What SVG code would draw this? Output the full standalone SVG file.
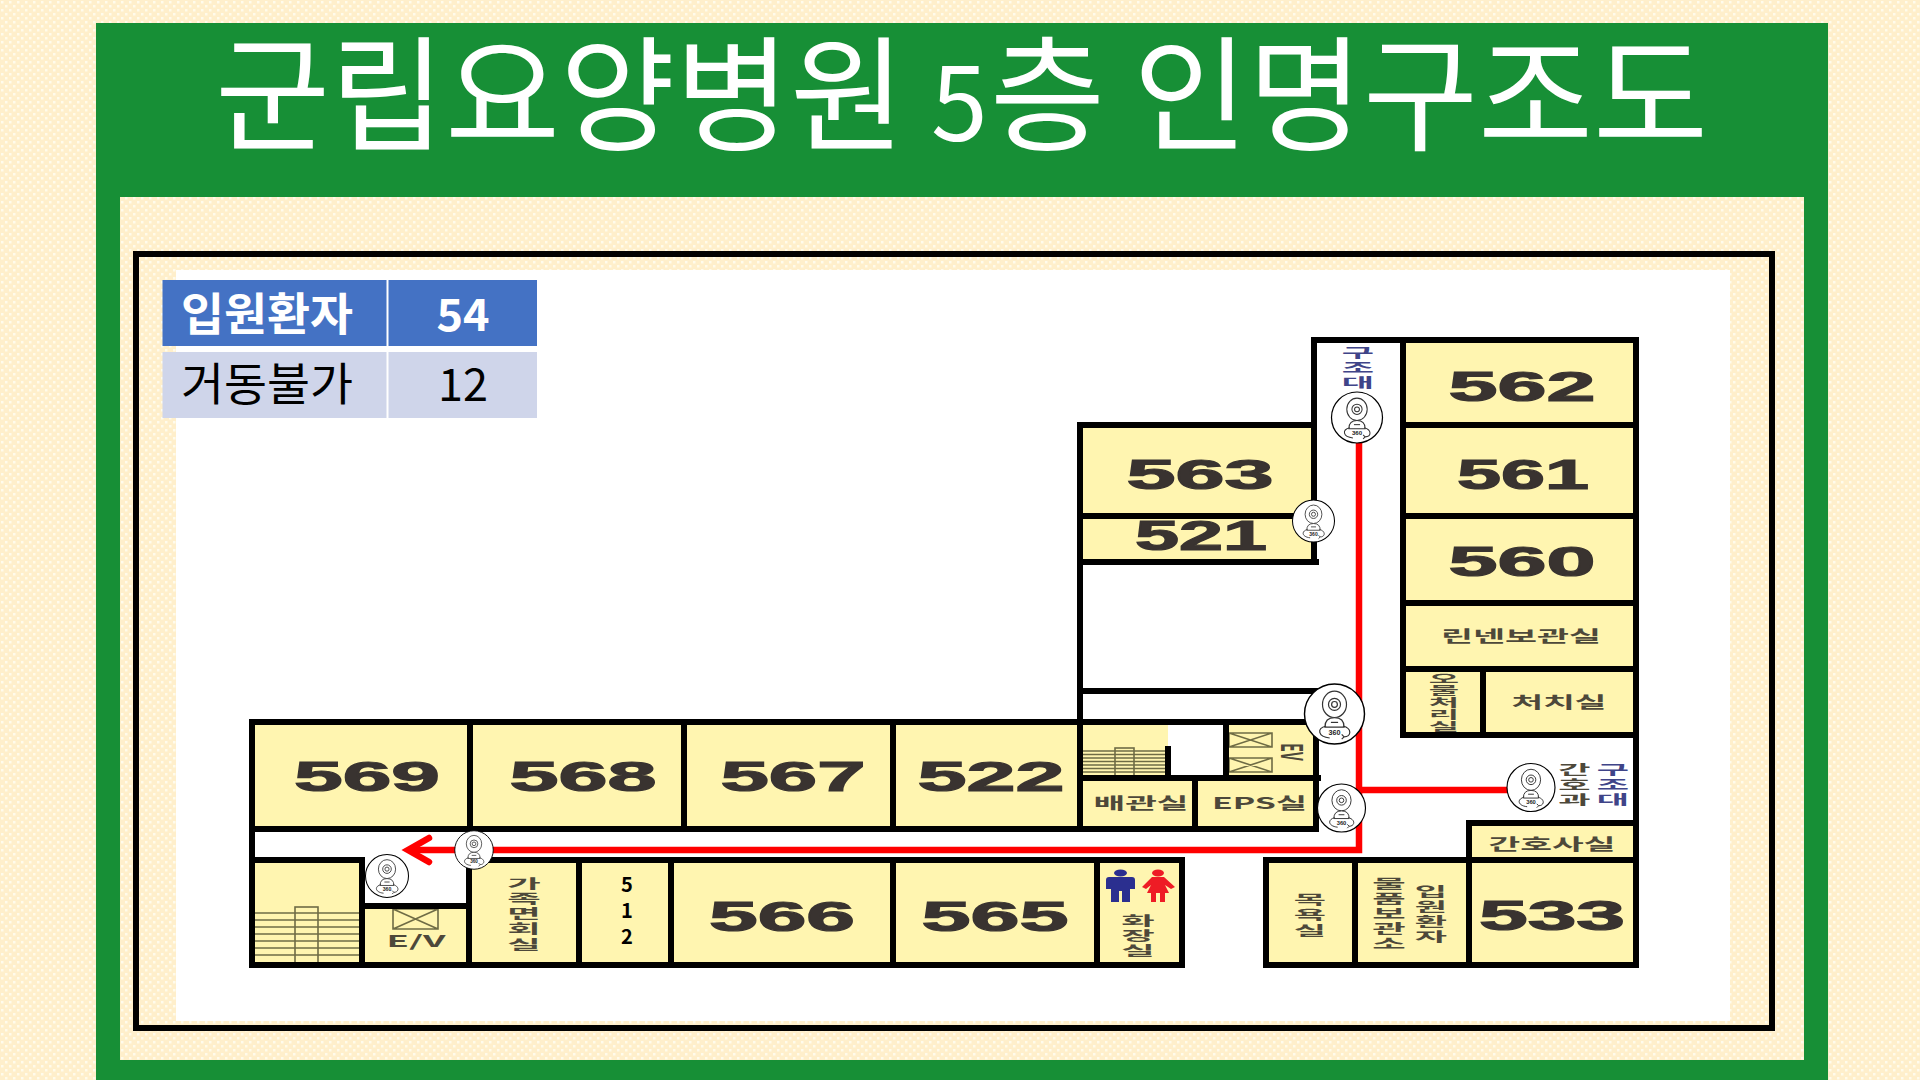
<svg xmlns="http://www.w3.org/2000/svg" xmlns:xlink="http://www.w3.org/1999/xlink" width="1920" height="1080" viewBox="0 0 1920 1080">
<style>
text{font-family:"Noto Sans CJK KR","Noto Sans",sans-serif}
.room{fill:#fff5b0}
.wall{stroke:#000;stroke-width:6;fill:none;stroke-linecap:square}
.num{font-family:"Liberation Sans",Arial,sans-serif;font-weight:700;font-size:42px;fill:#393330;stroke:#393330;stroke-width:1.2;text-anchor:middle}
.lb{font-weight:700;font-size:16px;fill:#4d483a;text-anchor:middle}
.vl{font-weight:700;font-size:13px;fill:#4d483a;text-anchor:middle}
.blue{fill:#3f4488}
.st{stroke:#6f6c45;stroke-width:1.6;fill:none}
.red{stroke:#f00;stroke-width:6.5;fill:none}
.th{font-size:45px;text-anchor:middle}
</style>
<defs>
<pattern id="paper" width="8" height="8" patternUnits="userSpaceOnUse"><rect width="8" height="8" fill="#ffefcb"/><rect x="1" y="1" width="2.500" height="2.500" fill="#fffbec"/><rect x="5" y="5" width="2.500" height="2.500" fill="#fffbec"/></pattern>
<g id="cam">
<circle r="25" fill="#fff" stroke="#000" stroke-width="1.2"/>
<ellipse cx="0" cy="-8" rx="10" ry="11" fill="#fff" stroke="#333" stroke-width="1"/>
<circle cx="0" cy="-8" r="5" fill="none" stroke="#333" stroke-width="1"/>
<circle cx="0" cy="-8" r="2.400" fill="none" stroke="#333" stroke-width="1"/>
<path d="M-8 11Q-8 3 0 3Q8 3 8 11Z" fill="#fff" stroke="#333" stroke-width="1"/>
<path d="M-3 7H3" stroke="#333" stroke-width="1"/>
<path d="M-7 10C-15 12-14 19-4 20M7 10C15 12 14 19 8 19M8 19L6 17M8 19L6 21" fill="none" stroke="#333" stroke-width="1"/>
<text x="0" y="17.500" text-anchor="middle" style="font-family:'Liberation Sans',sans-serif;font-weight:700;font-size:6px;fill:#222">360</text>
</g>
</defs>
<rect width="1920" height="1080" fill="url(#paper)"/>
<path d="M96 23H1828V1080H96Z M120 197V1060H1804V197Z" fill="#178f36" fill-rule="evenodd"/>
<text id="title" y="141" style="font-size:125px;fill:#fff"><tspan x="215">군립요양병원</tspan> <tspan x="931" style="font-size:102px">5</tspan><tspan x="990">층</tspan> <tspan x="1133">인명구조도</tspan></text>
<rect x="176" y="270" width="1554" height="751" fill="#fff"/>
<rect id="frame" x="136" y="254" width="1636" height="774" fill="none" stroke="#000" stroke-width="6"/>
<g id="census-table">
<rect x="162.500" y="280" width="224" height="66" fill="#4472c4"/><rect x="388.500" y="280" width="148.500" height="66" fill="#4472c4"/>
<rect x="162.500" y="352" width="224" height="66" fill="#cfd5ea"/><rect x="388.500" y="352" width="148.500" height="66" fill="#cfd5ea"/>
<text class="th" x="267" y="331" textLength="172" lengthAdjust="spacingAndGlyphs" style="font-weight:700;fill:#fff">입원환자</text>
<text class="th" x="463" y="331" style="font-weight:700;fill:#fff">54</text>
<text class="th" x="267" y="401" textLength="172" lengthAdjust="spacingAndGlyphs" style="fill:#000">거동불가</text>
<text class="th" x="463" y="401" style="fill:#000">12</text>
</g>
<g id="room-562"><rect class="room" x="1403" y="340" width="233" height="85"/><text class="num" x="1522" y="401" textLength="147" lengthAdjust="spacingAndGlyphs">562</text></g>
<g id="room-561"><rect class="room" x="1403" y="425" width="233" height="91"/><text class="num" x="1523" y="489" textLength="132" lengthAdjust="spacingAndGlyphs">561</text></g>
<g id="room-560"><rect class="room" x="1403" y="516" width="233" height="87"/><text class="num" x="1522" y="576" textLength="147" lengthAdjust="spacingAndGlyphs">560</text></g>
<g id="room-linen"><rect class="room" x="1403" y="603" width="233" height="66"/><text class="lb" x="1521" y="642" textLength="160" lengthAdjust="spacingAndGlyphs">린넨보관실</text></g>
<g id="room-waste"><rect class="room" x="1403" y="669" width="80" height="66"/><text class="vl" transform="translate(1444 0) scale(3 1)" style="font-size:11px"><tspan x="0" y="683">오</tspan><tspan x="0" y="695">물</tspan><tspan x="0" y="707">처</tspan><tspan x="0" y="719">리</tspan><tspan x="0" y="731">실</tspan></text></g>
<g id="room-treatment"><rect class="room" x="1483" y="669" width="153" height="66"/><text class="lb" x="1559" y="708" textLength="95" lengthAdjust="spacingAndGlyphs">처치실</text></g>
<g id="room-563"><rect class="room" x="1080" y="425" width="234" height="91"/><text class="num" x="1200" y="489" textLength="147" lengthAdjust="spacingAndGlyphs">563</text></g>
<g id="room-521"><rect class="room" x="1080" y="516" width="234" height="46"/><text class="num" x="1201" y="550" textLength="132" lengthAdjust="spacingAndGlyphs">521</text></g>
<g id="room-569"><rect class="room" x="252" y="722" width="218" height="107"/><text class="num" x="367" y="791" textLength="146" lengthAdjust="spacingAndGlyphs">569</text></g>
<g id="room-568"><rect class="room" x="470" y="722" width="214" height="107"/><text class="num" x="583" y="791" textLength="147" lengthAdjust="spacingAndGlyphs">568</text></g>
<g id="room-567"><rect class="room" x="684" y="722" width="209" height="107"/><text class="num" x="793" y="791" textLength="145" lengthAdjust="spacingAndGlyphs">567</text></g>
<g id="room-522"><rect class="room" x="893" y="722" width="187" height="107"/><text class="num" x="991" y="791" textLength="147" lengthAdjust="spacingAndGlyphs">522</text></g>
<g id="stairs-upper"><rect class="room" x="1080" y="722" width="88" height="56"/><path class="st" d="M1082 751H1165M1082 754.500H1165M1082 758H1165M1082 761.500H1165M1082 765H1165M1082 768.500H1165M1082 772H1165"/><rect class="st" x="1115" y="748" width="19" height="28"/></g>
<g id="room-ev-upper"><rect class="room" x="1226" y="722" width="92" height="56"/><path class="st" d="M1229 733H1272V747H1229ZM1229 733L1272 747M1229 747L1272 733M1229 758H1272V772H1229ZM1229 758L1272 772M1229 772L1272 758"/><text class="lb" transform="translate(1281 752) rotate(90) scale(1 2.1)" style="font-size:14px">EV</text></g>
<g id="room-pipe"><rect class="room" x="1080" y="778" width="115" height="51"/><text class="lb" x="1141" y="809" textLength="95" lengthAdjust="spacingAndGlyphs">배관실</text></g>
<g id="room-eps"><rect class="room" x="1195" y="778" width="123" height="51"/><text class="lb" x="1259.500" y="809" textLength="95" lengthAdjust="spacingAndGlyphs">EPS실</text></g>
<g id="stairs-lower"><rect class="room" x="252" y="860" width="110" height="105"/><path class="st" d="M255 913H359M255 920H359M255 927H359M255 934H359M255 941H359M255 948H359M255 955H359"/><rect class="st" x="295" y="907" width="23" height="56"/></g>
<g id="room-ev-lower"><rect class="room" x="362" y="906" width="107" height="59"/><path class="st" d="M393 909H438V929H393ZM393 909L438 929M393 929L438 909"/><text class="lb" x="416" y="947" textLength="59" lengthAdjust="spacingAndGlyphs">E/V</text></g>
<g id="room-family"><rect class="room" x="469" y="860" width="110" height="105"/><text class="vl" transform="translate(524 0) scale(2.800 1)"><tspan x="0" y="888">가</tspan><tspan x="0" y="903">족</tspan><tspan x="0" y="918">면</tspan><tspan x="0" y="933">회</tspan><tspan x="0" y="949">실</tspan></text></g>
<g id="room-512"><rect class="room" x="579" y="860" width="92" height="105"/><text style="font-size:20px;font-weight:700;fill:#000;text-anchor:middle"><tspan x="627" y="892">5</tspan><tspan x="627" y="918">1</tspan><tspan x="627" y="944">2</tspan></text></g>
<g id="room-566"><rect class="room" x="671" y="860" width="222" height="105"/><text class="num" x="782" y="931" textLength="146" lengthAdjust="spacingAndGlyphs">566</text></g>
<g id="room-565"><rect class="room" x="893" y="860" width="204" height="105"/><text class="num" x="995" y="931" textLength="147" lengthAdjust="spacingAndGlyphs">565</text></g>
<g id="room-toilet"><rect class="room" x="1097" y="860" width="85" height="105"/>
<g fill="#2b2f8f"><ellipse cx="1120.500" cy="873" rx="6.500" ry="3.500"/><path d="M1109 877H1132Q1135 877 1135 880V889H1130V902H1122V891H1119V902H1111V889H1106V880Q1106 877 1109 877Z"/></g>
<g fill="#ee1c25"><ellipse cx="1158" cy="873" rx="6" ry="3.500"/><path d="M1152 877H1164L1175 887L1171 889L1165 885L1169 893H1165V902H1160V893H1156V902H1151V893H1147L1151 885L1146 889L1142 887Z"/></g>
<text class="vl" transform="translate(1138 0) scale(2.800 1)"><tspan x="0" y="925">화</tspan><tspan x="0" y="940">장</tspan><tspan x="0" y="955">실</tspan></text></g>
<g id="room-bath"><rect class="room" x="1266" y="860" width="89" height="105"/><text class="vl" transform="translate(1310 0) scale(2.700 1)"><tspan x="0" y="904">목</tspan><tspan x="0" y="919">욕</tspan><tspan x="0" y="935">실</tspan></text></g>
<g id="room-storage"><rect class="room" x="1355" y="860" width="114" height="105"/><text class="vl" transform="translate(1389 0) scale(2.800 1)"><tspan x="0" y="888">물</tspan><tspan x="0" y="903">품</tspan><tspan x="0" y="918">보</tspan><tspan x="0" y="933">관</tspan><tspan x="0" y="948">소</tspan></text><text class="vl" transform="translate(1431 0) scale(2.700 1)"><tspan x="0" y="896">입</tspan><tspan x="0" y="911">원</tspan><tspan x="0" y="926">환</tspan><tspan x="0" y="941">자</tspan></text></g>
<g id="room-533"><rect class="room" x="1469" y="860" width="167" height="105"/><text class="num" x="1552" y="930" textLength="146" lengthAdjust="spacingAndGlyphs">533</text></g>
<g id="room-nurse"><rect class="room" x="1469" y="823" width="167" height="37"/><text class="lb" x="1552" y="850" textLength="127" lengthAdjust="spacingAndGlyphs">간호사실</text></g>
<g id="walls">
<path class="wall" d="M1314 340V562M1314 340H1636V965H1266V860H1636M1403 340V735H1636M1080 425H1314M1403 425H1636M1080 516H1314M1403 516H1636M1403 603H1636M1403 669H1636M1483 669V735M1080 562H1316M1080 425V829M1080 691H1316"/>
<path class="wall" d="M252 722H1316V829H252ZM470 722V829M684 722V829M893 722V829M1226 722V775M1080 778H1318M1195 778V829M1168 749V775"/>
<path class="wall" d="M252 829V965H1182V860H469V965M252 860H362V965M362 906H469M579 860V965M671 860V965M893 860V965M1097 860V965M1355 860V965M1469 823V965M1469 823H1636"/>
</g>
<g id="labels-rescue">
<text class="vl blue" transform="translate(1358 0) scale(2.700 1)"><tspan x="0" y="357">구</tspan><tspan x="0" y="372">조</tspan><tspan x="0" y="387">대</tspan></text>
<text class="vl" transform="translate(1574.500 0) scale(2.700 1)"><tspan x="0" y="774">간</tspan><tspan x="0" y="789">호</tspan><tspan x="0" y="804">과</tspan></text>
<text class="vl blue" transform="translate(1613 0) scale(2.700 1)"><tspan x="0" y="774">구</tspan><tspan x="0" y="789">조</tspan><tspan x="0" y="804">대</tspan></text>
</g>
<g id="connectors">
<path class="red" d="M1359 440V850H410"/>
<path class="red" d="M1359 790H1510"/>
<path class="red" stroke-linecap="round" d="M429 838L408 850L429 862"/>
</g>
<g id="cam-1"><use href="#cam" transform="translate(1357 417.500) scale(1.020)"/></g>
<g id="cam-2"><use href="#cam" transform="translate(1313.500 521) scale(.84)"/></g>
<g id="cam-3"><use href="#cam" transform="translate(1334.500 714) scale(1.200)"/></g>
<g id="cam-4"><use href="#cam" transform="translate(1341.500 808) scale(.96)"/></g>
<g id="cam-5"><use href="#cam" transform="translate(1531 787.500) scale(.96)"/></g>
<g id="cam-6"><use href="#cam" transform="translate(474 850) scale(.77)"/></g>
<g id="cam-7"><use href="#cam" transform="translate(387 876) scale(.86)"/></g>
</svg>
